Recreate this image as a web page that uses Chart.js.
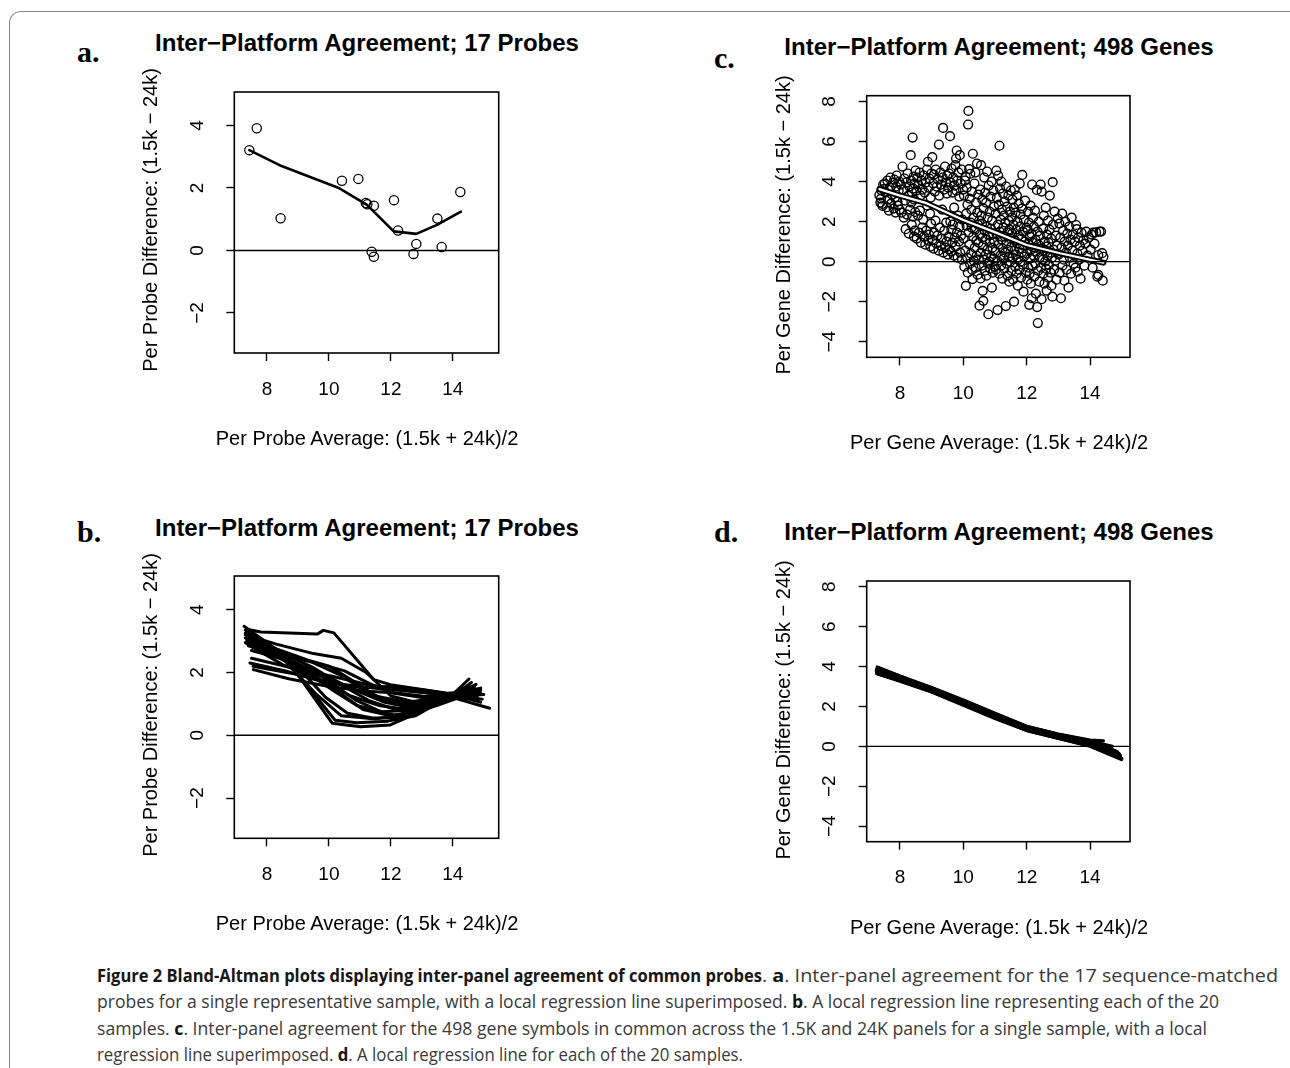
<!DOCTYPE html>
<html><head><meta charset="utf-8">
<script src="https://cdn.jsdelivr.net/npm/chart.js@4.4.0/dist/chart.umd.min.js"></script>
<style>
html,body{margin:0;padding:0;background:#fff;}
body{width:1290px;height:1068px;position:relative;overflow:hidden;font-family:"Liberation Sans",Arial,sans-serif;}
.frame{position:absolute;left:9px;top:11px;width:1300px;height:1100px;border-top:1px solid #8a8a8a;border-left:1px solid #8a8a8a;border-top-left-radius:12px;}
canvas{position:absolute;}
.ttl{position:absolute;font-weight:bold;font-size:24px;line-height:24px;white-space:nowrap;transform:translateX(-50%);color:#000;}
.xt{position:absolute;font-size:20px;line-height:20px;white-space:nowrap;transform:translateX(-50%);color:#000;}
.yt{position:absolute;font-size:20px;line-height:20px;white-space:nowrap;transform:translate(-50%,-50%) rotate(-90deg);color:#000;}
.lbl{position:absolute;font-family:"Liberation Serif","Times New Roman",serif;font-weight:bold;font-size:30px;line-height:30px;color:#000;}
.cap{position:absolute;font-family:"Open Sans","Noto Sans",sans-serif;font-size:18px;line-height:20px;white-space:nowrap;color:#3a3a3a;transform-origin:0 50%;}
.cap b{color:#161616;}
</style></head><body>
<div class="frame"></div>
<div class="lbl" style="left:77px;top:37px;">a.</div>
<div class="lbl" style="left:714px;top:43px;">c.</div>
<div class="lbl" style="left:77px;top:517px;">b.</div>
<div class="lbl" style="left:714px;top:517px;">d.</div>
<div class="ttl" style="left:367px;top:31px;">Inter−Platform Agreement; 17 Probes</div>
<div class="ttl" style="left:999px;top:35px;">Inter−Platform Agreement; 498 Genes</div>
<div class="ttl" style="left:367px;top:516px;">Inter−Platform Agreement; 17 Probes</div>
<div class="ttl" style="left:999px;top:520px;">Inter−Platform Agreement; 498 Genes</div>
<canvas id="ca" width="390" height="380" style="left:120px;top:80px;"></canvas>
<canvas id="cb" width="390" height="380" style="left:120px;top:564px;"></canvas>
<canvas id="cc" width="390" height="380" style="left:753px;top:84px;"></canvas>
<canvas id="cd" width="390" height="380" style="left:753px;top:569px;"></canvas>
<div class="xt" id="xa" style="left:367px;top:428px;"></div>
<div class="xt" id="xb" style="left:367px;top:913px;"></div>
<div class="xt" id="xc" style="left:999px;top:432px;"></div>
<div class="xt" id="xd" style="left:999px;top:917px;"></div>
<div class="yt" id="ya" style="left:150px;top:220px;"></div>
<div class="yt" id="yb" style="left:150px;top:705px;"></div>
<div class="yt" id="yc" style="left:783px;top:225px;"></div>
<div class="yt" id="yd" style="left:783px;top:710px;"></div>
<div class="cap" data-w="665" style="left:97px;top:965px;"><b>Figure 2 Bland-Altman plots displaying inter-panel agreement of common probes</b></div>
<div class="cap" data-w="516" style="left:762px;top:965px;">. <b>a</b>. Inter-panel agreement for the 17 sequence-matched</div>
<div class="cap" data-w="1122" style="left:97px;top:991px;">probes for a single representative sample, with a local regression line superimposed. <b>b</b>. A local regression line representing each of the 20</div>
<div class="cap" data-w="1110" style="left:97px;top:1018px;">samples. <b>c</b>. Inter-panel agreement for the 498 gene symbols in common across the 1.5K and 24K panels for a single sample, with a local</div>
<div class="cap" data-w="646" style="left:97px;top:1044px;">regression line superimposed. <b>d</b>. A local regression line for each of the 20 samples.</div>
<script>
// ---------------- data ----------------
const probeXRange = [6.945, 15.48];
const probeYRange = [-3.28, 5.07];
const geneXRange = [6.95, 15.26];
const geneYRange = [-4.78, 8.29];
const probeXTicks = [8, 10, 12, 14];
const probeYTicks = [-2, 0, 2, 4];
const geneXTicks = [8, 10, 12, 14];
const geneYTicks = [-4, -2, 0, 2, 4, 6, 8];
const refLineY = 0;

// panel a: 17 probes
const probeAvg  = [7.43, 7.67, 8.44, 10.42, 10.95, 11.19, 11.24, 11.45, 12.10, 12.23, 11.38, 11.45, 12.82, 12.73, 13.50, 13.64, 14.24];
const probeDiff = [3.21, 3.91, 1.03, 2.23, 2.29, 1.52, 1.48, 1.43, 1.61, 0.64, -0.04, -0.20, 0.21, -0.11, 1.02, 0.11, 1.87];
const probeLoessX = [7.43, 8.47, 10.34, 11.23, 12.09, 12.82, 13.49, 14.26];
const probeLoessY = [3.21, 2.70, 1.99, 1.46, 0.61, 0.53, 0.82, 1.24];

// panel b: local regression line for each of the 20 samples
const probeSampleLines = [
 [[7.42,3.36],[7.80,3.29],[9.62,3.22],[9.82,3.34],[10.16,3.26],[11.45,1.77],[11.98,1.61],[13.82,1.34],[14.68,1.39]],
 [[7.26,3.47],[8.55,2.56],[9.30,1.50],[10.11,0.38],[11.02,0.27],[11.98,0.33],[12.96,0.75],[13.93,1.29],[14.47,1.55]],
 [[7.35,3.30],[8.40,2.60],[9.40,1.45],[10.20,0.48],[10.90,0.40],[11.90,0.45],[12.80,0.62],[13.90,1.24],[14.75,1.62]],
 [[7.30,3.10],[8.50,2.45],[9.60,1.30],[10.40,0.62],[11.50,0.52],[12.50,0.70],[13.50,1.05],[14.20,1.25],[15.00,1.30]],
 [[7.35,3.00],[8.60,2.35],[9.80,1.85],[10.90,1.10],[11.80,0.70],[12.40,0.60],[13.50,0.95],[14.90,1.45]],
 [[7.30,2.95],[8.50,2.25],[9.70,1.75],[10.70,1.25],[11.60,0.95],[12.30,0.85],[13.30,1.05],[14.10,1.25],[14.95,1.15]],
 [[7.56,2.09],[8.70,1.80],[10.00,1.55],[11.20,1.40],[12.10,1.35],[13.00,1.25],[14.00,1.20],[15.19,0.86]],
 [[7.45,2.30],[8.60,2.05],[9.80,1.70],[11.00,1.52],[12.00,1.55],[13.00,1.45],[14.00,1.30],[14.90,1.05]],
 [[7.50,2.45],[8.80,2.15],[10.10,1.88],[11.30,1.60],[12.40,1.45],[13.60,1.30],[14.80,1.20]],
 [[7.40,3.20],[8.30,2.75],[9.30,2.40],[10.00,2.20],[10.80,1.72],[11.60,1.20],[12.40,0.98],[13.40,1.12],[14.30,1.32],[14.85,1.40]],
 [[7.35,3.05],[8.40,2.70],[9.40,2.35],[10.30,1.95],[11.20,1.40],[12.10,1.00],[12.90,0.95],[13.90,1.20],[14.70,1.48]],
 [[7.40,2.85],[8.50,2.50],[9.50,2.05],[10.40,1.60],[11.30,1.10],[12.20,0.80],[13.10,0.95],[14.00,1.25],[14.60,1.68]],
 [[7.30,3.25],[8.20,2.80],[9.10,2.05],[9.90,1.20],[10.60,0.70],[11.40,0.55],[12.20,0.55],[13.10,0.85],[14.00,1.30],[14.52,1.79]],
 [[7.45,3.15],[8.50,2.60],[9.50,2.15],[10.50,1.55],[11.50,1.25],[12.50,1.05],[13.50,1.18],[14.60,1.30]],
 [[7.38,2.90],[8.40,2.55],[9.60,2.30],[10.50,2.05],[11.30,1.65],[12.00,1.35],[13.00,1.20],[14.00,1.25],[14.90,1.35]],
 [[7.50,2.70],[8.60,2.40],[9.70,2.00],[10.80,1.45],[11.80,1.05],[12.80,0.85],[13.80,1.10],[14.70,1.55]],
 [[7.30,3.35],[8.30,2.70],[9.30,2.00],[10.10,1.45],[10.90,0.95],[11.70,0.75],[12.60,0.80],[13.50,1.05],[14.40,1.40],[14.90,1.50]],
 [[7.42,3.10],[8.45,2.55],[9.45,1.95],[10.35,1.35],[11.10,0.82],[12.00,0.62],[12.90,0.78],[13.80,1.12],[14.70,1.36]],
 [[7.55,2.20],[8.90,1.95],[10.20,1.65],[11.50,1.50],[12.60,1.40],[13.70,1.30],[14.80,1.10]],
 [[7.30,3.20],[8.30,2.90],[9.50,2.60],[10.40,2.45],[11.20,2.00],[12.00,1.25],[12.80,1.05],[13.80,1.22],[14.85,1.45]]
];

// panel c: 498 genes, single sample (average, difference)
const genePoints = [
 [7.35,3.32],[7.38,2.95],[7.42,3.55],[7.45,2.78],[7.47,3.85],[7.40,3.15],[7.48,3.62],[7.44,2.88],
 [7.52,3.9],[7.55,3.45],[7.58,2.72],[7.6,4.05],[7.62,3.1],[7.65,2.55],[7.68,3.7],[7.7,4.2],[7.72,2.9],[7.75,3.35],[7.78,3.95],[7.8,2.65],[7.82,4.1],[7.84,3.2],[7.86,2.45],[7.88,3.75],[7.9,4.3],[7.92,3.0],[7.94,2.8],[7.96,3.55],[7.98,4.0],[7.99,2.6],
 [8.02,3.85],[8.05,2.45],[8.08,4.75],[8.1,3.6],[8.12,2.2],[8.14,4.15],[8.16,3.05],[8.18,1.62],[8.2,3.95],[8.22,2.35],[8.24,4.4],[8.26,3.3],[8.28,1.4],[8.3,3.75],[8.32,2.6],[8.34,5.32],[8.35,4.05],[8.37,1.85],[8.38,3.45],[8.4,6.2],[8.41,2.25],[8.43,4.25],[8.44,1.25],[8.45,3.1],[8.46,3.9],[8.47,1.55],[8.48,2.48],[8.49,4.55],[8.42,3.65],[8.36,2.95],
 [8.52,3.55],[8.53,1.15],[8.55,4.2],[8.57,2.3],[8.58,3.85],[8.6,1.45],[8.62,4.45],[8.63,2.55],[8.65,3.3],[8.66,0.95],[8.68,4.05],[8.7,1.7],[8.71,3.6],[8.73,2.1],[8.75,4.3],[8.76,1.25],[8.78,3.45],[8.8,0.85],[8.81,3.95],[8.83,1.55],[8.85,4.6],[8.86,2.8],[8.88,4.99],[8.89,1.05],[8.9,3.7],[8.92,1.35],[8.93,4.15],[8.95,2.4],[8.96,0.75],[8.97,3.2],[8.98,1.9],[8.99,4.4],
 [9.02,5.22],[9.03,1.1],[9.05,3.9],[9.06,0.65],[9.07,4.35],[9.08,1.45],[9.1,3.5],[9.12,2.05],[9.13,4.6],[9.15,0.9],[9.16,3.75],[9.18,1.3],[9.2,4.1],[9.22,0.55],[9.23,5.85],[9.24,3.3],[9.26,1.7],[9.28,4.45],[9.29,0.8],[9.3,3.85],[9.32,1.15],[9.33,2.6],[9.35,4.2],[9.36,6.68],[9.37,0.45],[9.39,3.6],[9.4,1.55],[9.42,4.75],[9.43,0.7],[9.45,3.95],[9.46,1.95],[9.47,1.0],[9.48,3.4],[9.49,4.3],
 [9.51,0.35],[9.52,3.7],[9.53,1.25],[9.55,4.4],[9.56,0.6],[9.58,6.27],[9.59,2.0],[9.6,3.95],[9.61,0.5],[9.62,1.6],[9.63,4.65],[9.65,0.95],[9.66,3.45],[9.67,1.85],[9.68,4.2],[9.7,0.3],[9.71,2.7],[9.72,3.8],[9.73,1.2],[9.75,4.82],[9.76,0.75],[9.77,5.15],[9.78,3.55],[9.79,5.55],[9.8,1.45],[9.81,4.05],[9.82,0.2],[9.83,2.3],[9.85,4.45],[9.86,1.0],[9.87,3.25],[9.88,1.75],[9.89,5.32],[9.9,0.45],[9.92,3.9],[9.93,1.3],[9.95,4.6],[9.96,0.1],[9.97,2.1],[9.99,3.6],
 [10.01,1.15],[10.02,3.3],[10.03,-0.25],[10.05,4.05],[10.06,0.55],[10.07,4.25],[10.08,-1.21],[10.09,2.4],[10.1,1.8],[10.11,3.7],[10.12,0.2],[10.13,2.85],[10.14,-0.55],[10.15,6.85],[10.16,7.53],[10.17,1.45],[10.18,4.62],[10.19,0.85],[10.2,3.15],[10.21,-0.1],[10.22,4.39],[10.23,1.95],[10.24,0.4],[10.25,2.6],[10.27,3.5],[10.28,-0.4],[10.29,-0.87],[10.3,5.39],[10.31,1.25],[10.32,2.2],[10.33,0.05],[10.35,3.9],[10.36,0.7],[10.37,1.6],[10.38,4.45],[10.39,-0.3],[10.4,2.95],[10.41,1.05],[10.42,0.3],[10.43,4.9],[10.44,2.45],[10.45,-0.65],[10.46,1.85],[10.47,3.35],[10.48,0.95],[10.49,0.1],[10.5,2.05],[10.26,1.7],
 [10.51,-2.2],[10.52,1.35],[10.53,3.6],[10.54,-0.84],[10.55,0.45],[10.56,4.82],[10.57,2.3],[10.58,-0.2],[10.59,1.9],[10.6,3.1],[10.61,-1.46],[10.62,0.8],[10.63,-1.96],[10.64,2.65],[10.65,0.1],[10.66,4.2],[10.67,1.55],[10.68,-0.45],[10.69,3.45],[10.7,1.1],[10.71,0.35],[10.72,2.95],[10.73,-0.7],[10.74,1.75],[10.75,4.5],[10.76,0.6],[10.77,2.2],[10.78,-0.1],[10.79,-2.63],[10.8,3.8],[10.81,1.3],[10.82,0.0],[10.83,2.5],[10.84,0.95],[10.85,-0.35],[10.86,3.25],[10.87,1.65],[10.88,0.25],[10.89,4.0],[10.9,-1.3],[10.91,2.05],[10.92,0.7],[10.93,-0.55],[10.94,1.4],[10.95,3.55],[10.96,0.15],[10.97,2.75],[10.98,1.0],[10.99,-0.25],[10.6,1.2],
 [11.01,0.5],[11.02,2.4],[11.03,-0.4],[11.04,4.55],[11.05,1.35],[11.06,3.2],[11.07,0.05],[11.08,-2.42],[11.09,1.85],[11.1,4.3],[11.11,0.85],[11.12,2.85],[11.13,-0.6],[11.14,5.79],[11.15,1.5],[11.16,3.65],[11.17,0.3],[11.18,2.1],[11.19,-0.2],[11.2,4.0],[11.21,1.1],[11.22,2.6],[11.23,-0.85],[11.24,0.65],[11.25,3.4],[11.26,1.7],[11.27,0.15],[11.28,2.3],[11.29,-0.35],[11.3,3.0],[11.31,1.25],[11.32,0.45],[11.33,1.95],[11.34,-2.22],[11.35,3.75],[11.36,0.9],[11.37,-0.1],[11.38,2.75],[11.39,1.45],[11.4,-0.7],[11.41,0.6],[11.42,3.3],[11.43,2.05],[11.44,0.25],[11.45,-1.0],[11.46,1.6],[11.47,2.5],[11.48,0.0],[11.49,1.15],[11.5,3.55],
 [11.51,0.75],[11.52,-0.45],[11.53,2.2],[11.54,1.4],[11.55,3.1],[11.56,0.2],[11.57,-0.9],[11.58,1.85],[11.59,2.7],[11.6,-2.0],[11.61,0.55],[11.62,3.6],[11.63,1.05],[11.64,-0.25],[11.65,2.45],[11.66,0.35],[11.67,1.6],[11.68,-0.6],[11.69,3.3],[11.7,0.9],[11.71,2.0],[11.72,-1.2],[11.73,0.1],[11.74,1.3],[11.75,2.9],[11.76,-0.4],[11.77,0.65],[11.78,3.9],[11.79,1.75],[11.8,0.0],[11.81,2.35],[11.82,-0.8],[11.83,1.15],[11.84,0.45],[11.85,2.65],[11.86,4.33],[11.87,-0.15],[11.88,1.5],[11.89,0.8],[11.9,-1.5],[11.91,2.1],[11.92,0.25],[11.94,1.0],[11.95,3.05],[11.97,-0.55],[11.99,1.7],
 [12.01,0.4],[12.02,-0.9],[12.03,1.6],[12.04,2.5],[12.05,-0.3],[12.06,0.9],[12.07,1.95],[12.08,-2.16],[12.09,-0.6],[12.1,1.25],[12.11,0.15],[12.12,2.8],[12.13,-1.1],[12.14,0.6],[12.15,1.4],[12.17,3.85],[12.18,-0.2],[12.19,0.95],[12.2,2.2],[12.16,-1.83],[12.22,0.3],[12.23,1.75],[12.24,-0.75],[12.25,0.7],[12.26,2.55],[12.27,-0.1],[12.28,1.1],[12.29,-1.6],[12.3,0.5],[12.32,3.58],[12.33,-2.27],[12.34,1.5],[12.35,-3.07],[12.36,-0.45],[12.37,0.85],[12.38,2.0],[12.4,-1.0],[12.41,0.2],[12.42,1.3],[12.44,3.85],[12.45,-0.3],[12.46,0.65],[12.47,3.5],[12.47,-1.88],
 [12.51,0.1],[12.52,1.65],[12.53,-0.6],[12.54,2.3],[12.55,0.55],[12.56,-1.1],[12.57,1.0],[12.58,0.0],[12.6,2.7],[12.61,-0.35],[12.62,0.75],[12.63,-1.45],[12.64,1.35],[12.65,0.3],[12.67,2.05],[12.68,-0.8],[12.69,0.95],[12.7,-0.15],[12.72,1.6],[12.73,3.3],[12.74,0.45],[12.75,-0.55],[12.77,1.15],[12.78,-1.2],[12.8,0.2],[12.81,-1.75],[12.82,3.97],[12.83,1.85],[12.85,0.6],[12.86,-0.4],[12.88,2.5],[12.9,0.05],[12.92,1.3],[12.94,-0.9],[12.96,0.8],[12.98,2.15],
 [13.01,0.35],[13.03,1.9],[13.04,-0.55],[13.06,1.2],[13.08,-1.83],[13.1,0.7],[13.12,2.4],[13.13,-0.2],[13.15,1.55],[13.17,0.1],[13.19,-0.95],[13.2,1.0],[13.22,2.0],[13.24,0.45],[13.26,-0.4],[13.28,1.4],[13.3,0.8],[13.32,-1.3],[13.34,1.75],[13.36,0.2],[13.38,1.1],[13.4,-0.6],[13.42,2.2],[13.44,0.55],[13.46,1.35],[13.48,-0.1],
 [13.52,1.0],[13.54,-0.3],[13.56,1.83],[13.58,1.62],[13.6,0.4],[13.61,-0.5],[13.63,1.2],[13.66,0.1],[13.68,0.8],[13.7,-0.85],[13.73,1.45],[13.76,0.55],[13.79,1.08],[13.82,-0.2],[13.85,0.9],[13.88,1.5],[13.92,0.3],[13.96,1.2],
 [14.02,0.6],[14.05,1.35],[14.08,-0.3],[14.1,1.45],[14.14,0.9],[14.19,1.46],[14.23,-0.75],[14.26,0.33],[14.26,-0.66],[14.3,1.5],[14.35,1.5],[14.38,0.42],[14.4,-0.95],[14.42,0.24]
];
const geneLoessX = [7.35, 8.0, 8.84, 10.0, 10.95, 12.0, 13.05, 14.42];
const geneLoessY = [3.62, 3.30, 2.92, 2.08, 1.50, 0.83, 0.42, -0.05];

// panel d: local regression line for each of the 20 samples
const geneSampleLines = [
 [[7.28,3.98],[8,3.53],[9,2.95],[10,2.33],[11,1.66],[12,1.01],[13,0.62],[14,0.31],[14.42,0.27]],
 [[7.25,3.80],[8,3.40],[9,2.85],[10,2.20],[11,1.53],[12,0.90],[13,0.50],[14,0.12],[14.95,-0.45]],
 [[7.30,3.66],[8,3.30],[9,2.75],[10,2.10],[11,1.43],[12,0.82],[13,0.42],[14,0.04],[15.00,-0.64]],
 [[7.32,3.90],[8,3.48],[9,2.92],[10,2.28],[11,1.61],[12,0.97],[13,0.58],[14,0.22],[14.85,-0.30]],
 [[7.27,3.75],[8,3.38],[9,2.82],[10,2.18],[11,1.50],[12,0.88],[13,0.48],[14,0.10],[14.90,-0.40]],
 [[7.30,3.84],[8,3.44],[9,2.88],[10,2.24],[11,1.57],[12,0.94],[13,0.54],[14,0.17],[14.92,-0.38]],
 [[7.26,3.65],[8,3.29],[9,2.74],[10,2.09],[11,1.42],[12,0.81],[13,0.41],[14,0.02],[14.98,-0.58]],
 [[7.29,3.93],[8,3.50],[9,2.93],[10,2.30],[11,1.63],[12,0.99],[13,0.60],[14,0.26],[14.70,0.00]],
 [[7.31,3.78],[8,3.40],[9,2.84],[10,2.19],[11,1.51],[12,0.89],[13,0.49],[14,0.11],[14.93,-0.47]],
 [[7.28,3.71],[8,3.35],[9,2.80],[10,2.15],[11,1.48],[12,0.86],[13,0.46],[14,0.08],[14.96,-0.52]],
 [[7.33,3.87],[8,3.46],[9,2.90],[10,2.26],[11,1.59],[12,0.96],[13,0.56],[14,0.19],[14.88,-0.33]],
 [[7.27,3.83],[8,3.41],[9,2.86],[10,2.21],[11,1.54],[12,0.91],[13,0.51],[14,0.13],[14.90,-0.42]],
 [[7.30,3.63],[8,3.27],[9,2.72],[10,2.06],[11,1.40],[12,0.79],[13,0.40],[14,0.01],[14.99,-0.66]],
 [[7.29,3.95],[8,3.51],[9,2.93],[10,2.29],[11,1.62],[12,0.98],[13,0.59],[14,0.24],[14.80,-0.22]],
 [[7.32,3.77],[8,3.39],[9,2.83],[10,2.17],[11,1.50],[12,0.88],[13,0.49],[14,0.11],[14.95,-0.52]],
 [[7.26,3.86],[8,3.44],[9,2.87],[10,2.22],[11,1.55],[12,0.92],[13,0.52],[14,0.15],[14.91,-0.36]],
 [[7.30,3.72],[8,3.35],[9,2.78],[10,2.13],[11,1.46],[12,0.84],[13,0.44],[14,0.06],[14.97,-0.58]],
 [[7.28,3.81],[8,3.42],[9,2.86],[10,2.21],[11,1.53],[12,0.91],[13,0.50],[14,0.13],[14.94,-0.44]],
 [[7.31,3.91],[8,3.47],[9,2.90],[10,2.26],[11,1.59],[12,0.96],[13,0.57],[14,0.21],[14.87,-0.28]],
 [[7.27,3.68],[8,3.31],[9,2.76],[10,2.11],[11,1.44],[12,0.82],[13,0.42],[14,0.04],[15.00,-0.60]]
];

const probeXTitle = 'Per Probe Average: (1.5k + 24k)/2';
const probeYTitle = 'Per Probe Difference: (1.5k \u2212 24k)';
const geneXTitle = 'Per Gene Average: (1.5k + 24k)/2';
const geneYTitle = 'Per Gene Difference: (1.5k \u2212 24k)';

// ---------------- rendering ----------------
const FONT = '"Liberation Sans", Arial, sans-serif';
const fmt = v => (v < 0 ? '\u2212' + Math.abs(v) : String(v));

[['xa', probeXTitle], ['xb', probeXTitle], ['xc', geneXTitle], ['xd', geneXTitle],
 ['ya', probeYTitle], ['yb', probeYTitle], ['yc', geneYTitle], ['yd', geneYTitle]]
  .forEach(([id, t]) => { document.getElementById(id).textContent = t; });

const boxPlugin = {
  id: 'rbox',
  afterDatasetsDraw(chart) {
    const {ctx, chartArea: a, scales: {y}} = chart;
    ctx.save();
    ctx.strokeStyle = '#000';
    ctx.lineWidth = 1.4;
    const py = y.getPixelForValue(refLineY);
    ctx.beginPath(); ctx.moveTo(a.left, py); ctx.lineTo(a.right, py); ctx.stroke();
    ctx.lineWidth = 1.6;
    ctx.strokeRect(a.left, a.top, a.right - a.left, a.bottom - a.top);
    ctx.restore();
  }
};

function axis(isX, range, ticks, fit, pad) {
  return {
    type: 'linear', position: isX ? 'bottom' : 'left',
    min: range[0], max: range[1],
    afterBuildTicks: s => { s.ticks = ticks.map(v => ({value: v})); },
    afterFit: s => {
      if (isX) s.height = fit; else s.width = fit;
      s.paddingTop = 0; s.paddingBottom = 0; s.paddingLeft = 0; s.paddingRight = 0;
    },
    grid: {display: true, drawOnChartArea: false, drawTicks: true, tickLength: 8, tickColor: '#000', tickWidth: 1.4, color: '#000'},
    border: {display: false},
    ticks: {color: '#000', font: {family: FONT, size: 19}, padding: pad, autoSkip: false,
            minRotation: isX ? 0 : 90, maxRotation: isX ? 0 : 90, crossAlign: isX ? 'near' : 'center',
            callback: v => fmt(v)},
    title: {display: false}
  };
}

function makeChart(id, datasets, xr, yr, xt, yt, layout) {
  return new Chart(document.getElementById(id), {
    type: 'scatter',
    data: {datasets},
    options: {
      responsive: false, animation: false, devicePixelRatio: 1,
      layout: {padding: layout.pad},
      plugins: {legend: {display: false}, tooltip: {enabled: false}},
      scales: {
        x: axis(true, xr, xt, layout.h, 17),
        y: axis(false, yr, yt, layout.w, 18)
      }
    },
    plugins: [boxPlugin]
  });
}

const lineDs = (pts, width, color, order) => ({
  data: pts.map(p => ({x: p[0], y: p[1]})), showLine: true, pointRadius: 0, order,
  borderColor: color, borderWidth: width, borderCapStyle: 'round', borderJoinStyle: 'round', tension: 0, fill: false
});

// panel a
makeChart('ca', [
  {data: probeAvg.map((x, i) => ({x, y: probeDiff[i]})), pointRadius: 4.6, pointBorderWidth: 1.3, order: 2,
   pointBorderColor: '#000', pointBackgroundColor: 'rgba(0,0,0,0)', showLine: false},
  lineDs(probeLoessX.map((x, i) => [x, probeLoessY[i]]), 2.6, '#000', 1)
], probeXRange, probeYRange, probeXTicks, probeYTicks,
  {pad: {left: 18, top: 12, right: 11.3, bottom: 10}, w: 96.3, h: 97});

// panel b
makeChart('cb', probeSampleLines.map(l => lineDs(l, 3, '#000', 1)),
  probeXRange, probeYRange, probeXTicks, probeYTicks,
  {pad: {left: 18, top: 12, right: 11.3, bottom: 9}, w: 96.3, h: 96.7});

// panel c
makeChart('cc', [
  {data: genePoints.map(p => ({x: p[0], y: p[1]})), pointRadius: 4.4, pointBorderWidth: 1.4, order: 3,
   pointBorderColor: '#000', pointBackgroundColor: 'rgba(0,0,0,0)', showLine: false},
  lineDs(geneLoessX.map((x, i) => [x, geneLoessY[i]]), 6, '#000', 2),
  lineDs(geneLoessX.map((x, i) => [x, geneLoessY[i]]), 2.2, '#fff', 1)
], geneXRange, geneYRange, geneXTicks, geneYTicks,
  {pad: {left: 18, top: 11.7, right: 13, bottom: 10}, w: 95.7, h: 96.7});

// panel d
makeChart('cd', geneSampleLines.map(l => lineDs(l, 3.2, '#000', 1)),
  geneXRange, geneYRange, geneXTicks, geneYTicks,
  {pad: {left: 18, top: 12, right: 13, bottom: 10}, w: 95.7, h: 97.3});

// caption fitting
document.querySelectorAll('.cap').forEach(el => {
  const w = el.getBoundingClientRect().width;
  const target = +el.dataset.w;
  el.style.transform = 'scaleX(' + (target / w) + ')';
});
</script>
</body></html>
